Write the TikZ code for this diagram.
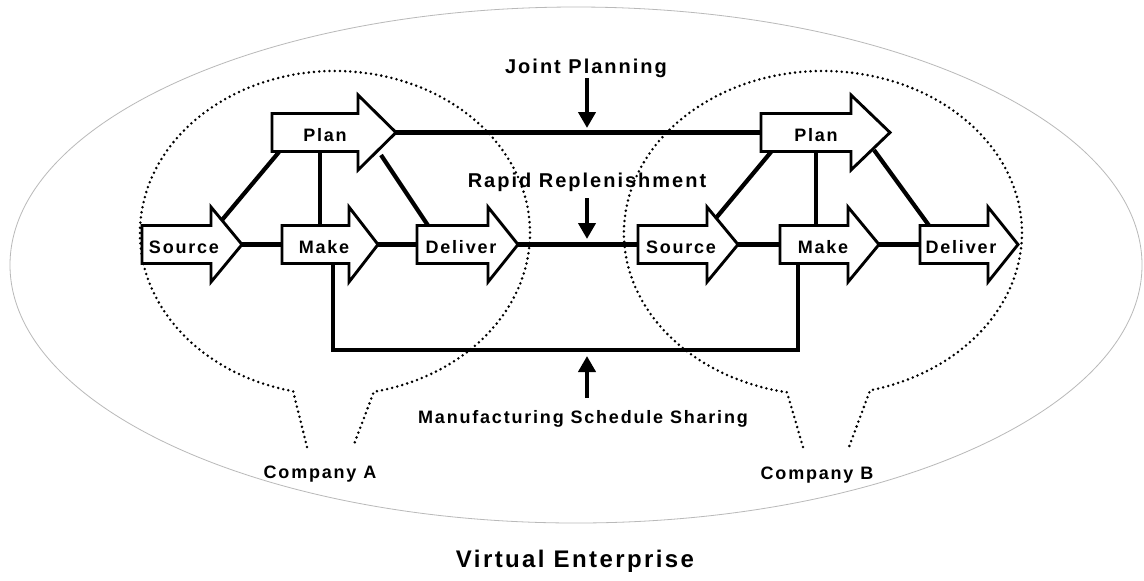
\documentclass[tikz,border=0pt]{standalone}
\usepackage{fontspec}
\setmainfont{Liberation Sans}[LetterSpace=10]
\usetikzlibrary{arrows.meta}
\tikzset{
  procshape/.style={draw=black, line width=1.45pt, fill=white, line join=miter},
  link/.style={line width=2.1pt},
  thinlink/.style={line width=1.7pt},
  lbl/.style={font=\fontsize{9}{10}\selectfont\bfseries, inner sep=0pt, anchor=base},
  biglbl/.style={font=\fontsize{10}{12}\selectfont\bfseries, inner sep=0pt, anchor=base},
  titlelbl/.style={font=\fontsize{12}{14}\selectfont\bfseries, inner sep=0pt, anchor=base},
  bubble/.style={line width=1.4pt, dash pattern=on 0pt off 2.6pt, line cap=round},
  outerline/.style={draw=gray!55, line width=0.4pt},
  callout/.style={line width=2.1pt, -{Triangle[length=8pt,width=8.5pt]}},
}
% name, left x, centre y, shaft length, head length, label offset, label
\newcommand\procarrow[7]{%
  \coordinate (#1-w) at (#2,#3);
  \draw[procshape] (#1-w) ++(0,-19) -- ++(#4,0) -- ++(0,-18.5)
     -- ++(#5,37.5) coordinate (#1-tip) -- ++(-#5,37.5) -- ++(0,-18.5) -- ++(-#4,0) -- cycle;
  \path (#1-w) ++(#6,8.5) node[lbl] (#1) {#7};
}
\begin{document}
\begin{tikzpicture}[x=0.5pt,y=-0.5pt]
\useasboundingbox[fill=white] (0,0) rectangle (1144,580);

% outer virtual enterprise ellipse
\draw[outerline] (576,265) ellipse [x radius=566, y radius=258];

% company bubbles
\coordinate (tailA1) at (307,447);
\coordinate (tailA2) at (353,447);
\draw[bubble] (tailA1) -- (293.1,391.2) arc[start angle=102.4, end angle=438.5, x radius=195, y radius=162] -- (tailA2);
\coordinate (tailB1) at (803,447);
\coordinate (tailB2) at (849,447);
\draw[bubble] (tailB1) -- (787,392.3) arc[start angle=100.4, end angle=436.3, x radius=199, y radius=162] -- (tailB2);

% process arrows, company A
\procarrow{planA}{272}{132.5}{86}{38}{53}{Plan}
\procarrow{srcA}{142}{244.5}{69}{31}{42}{Source}
\procarrow{makeA}{282}{244.5}{67}{29}{42}{Make}
\procarrow{delA}{417}{244.5}{71}{30}{44}{Deliver}
% process arrows, company B
\procarrow{planB}{761}{132.5}{90}{39}{55}{Plan}
\procarrow{srcB}{638}{244.5}{69}{31}{43}{Source}
\procarrow{makeB}{780}{244.5}{68}{31}{43}{Make}
\procarrow{delB}{920}{244.5}{68}{30}{41}{Deliver}

% links between companies
\draw[link] (planA-tip) -- (planB-w);
\draw[link] (delA-tip) -- (srcB-w);

% flow inside company A
\draw[link] (srcA-tip) -- (makeA-w);
\draw[link] (makeA-tip) -- (delA-w);
\coordinate (pAsw) at (279,152);
\coordinate (sAhd) at (222,220);
\draw[link] (pAsw) -- (sAhd);
\coordinate (pAs) at (320,151.5);
\coordinate (mAn) at (320,225.5);
\draw[thinlink] (pAs) -- (mAn);
\coordinate (pAhd) at (381,155);
\coordinate (dAnw) at (428,225.5);
\draw[link] (pAhd) -- (dAnw);

% flow inside company B
\draw[link] (srcB-tip) -- (makeB-w);
\draw[link] (makeB-tip) -- (delB-w);
\coordinate (pBsw) at (771,152);
\coordinate (sBhd) at (716,218);
\draw[link] (pBsw) -- (sBhd);
\coordinate (pBs) at (816,151.5);
\coordinate (mBn) at (816,225.5);
\draw[thinlink] (pBs) -- (mBn);
\coordinate (pBhd) at (874,150);
\coordinate (dBnw) at (929,225.5);
\draw[link] (pBhd) -- (dBnw);

% manufacturing schedule sharing link
\coordinate (mAs) at (333,263.5);
\coordinate (mBs) at (798,263.5);
\draw[link, line join=miter] (mAs) -- (333,350) -- (798,350) -- (mBs);

% labels and callout arrows
\node[biglbl] (jp) at (586,73) {Joint Planning};
\coordinate (jpTail) at (587,78);
\coordinate (jpTip) at (587,128);
\draw[callout] (jpTail) -- (jpTip);

\node[biglbl] (rr) at (587,187) {Rapid Replenishment};
\coordinate (rrTail) at (587,198);
\coordinate (rrTip) at (587,239);
\draw[callout] (rrTail) -- (rrTip);

\node[lbl] (ms) at (583,423) {Manufacturing Schedule Sharing};
\coordinate (msTail) at (587,398);
\coordinate (msTip) at (587,356);
\draw[callout] (msTail) -- (msTip);

\node[lbl] (compA) at (320,478) {Company A};
\node[lbl] (compB) at (817,479) {Company B};
\node[titlelbl] (ve) at (575,567) {Virtual Enterprise};
\end{tikzpicture}
\end{document}
